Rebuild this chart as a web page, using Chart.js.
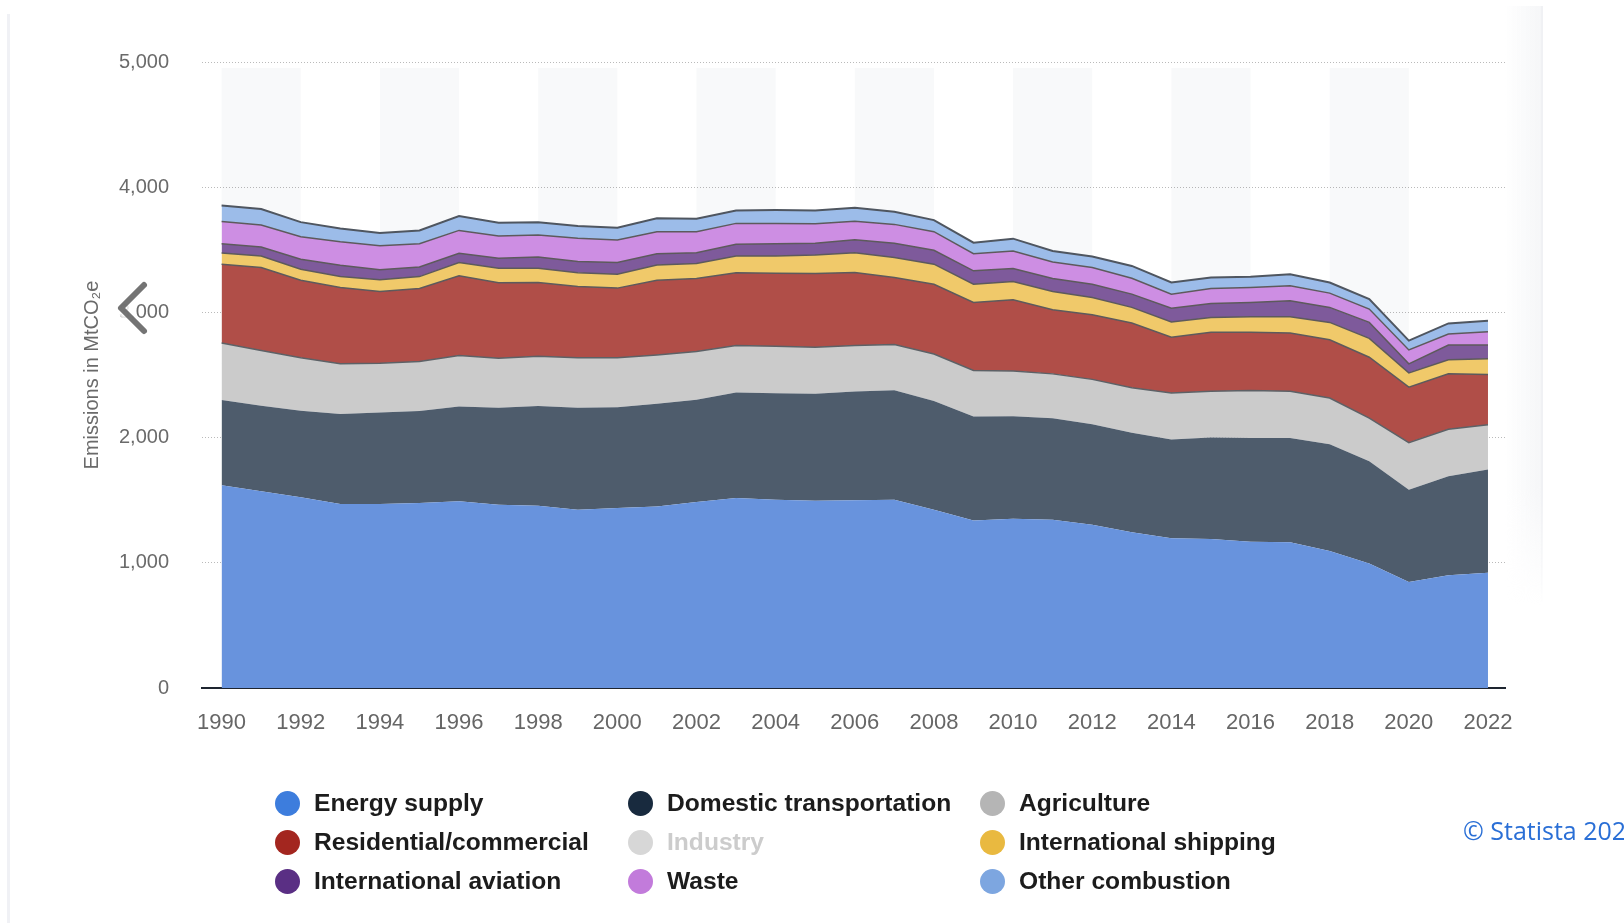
<!DOCTYPE html>
<html>
<head>
<meta charset="utf-8">
<script src="https://cdn.jsdelivr.net/npm/chart.js@4.4.1/dist/chart.umd.min.js"></script>
<style>
html, body { margin: 0; padding: 0; background: #fff; overflow: hidden; }
#wrap { position: relative; width: 1624px; height: 923px; overflow: hidden; }
#chart { position: absolute; left: 0; top: 0; }
.edge-left { position: absolute; left: 7px; top: 14px; width: 3px; height: 920px; background: #f0f1f5; }
.edge-right { position: absolute; left: 1505px; top: 6px; width: 37px; height: 600px;
  background: linear-gradient(to right, rgba(248,249,250,0), rgba(244,245,247,0.9));
  -webkit-mask-image: linear-gradient(to bottom, #000 80%, transparent); }
.edge-right-line { position: absolute; left: 1541px; top: 6px; width: 2px; height: 600px; background: #f0f1f4;
  -webkit-mask-image: linear-gradient(to bottom, #000 80%, transparent); }
.legend-item { position: absolute; height: 26px; display: flex; align-items: center; white-space: nowrap;
  font-family: "Liberation Sans", Arial, sans-serif; font-weight: bold; font-size: 24.6px; color: #1c1c1c; }
.legend-item .dot { width: 25px; height: 25px; border-radius: 50%; margin-right: 14px; flex: none; }
.credit { position: absolute; left: 1463px; top: 813px; font-family: "Open Sans", sans-serif; font-size: 25px;
  color: #2a6fd6; white-space: nowrap; }
svg.overlay { position: absolute; left: 0; top: 0; pointer-events: none; }
</style>
</head>
<body>
<div id="wrap">
  <div class="edge-left"></div>
  <div class="edge-right"></div>
  <div class="edge-right-line"></div>
  <canvas id="chart" width="1624" height="923"></canvas>
  <div id="legend"></div>
  <div class="credit">© Statista 2024</div>
  <svg class="overlay" width="1624" height="923">
    <polyline points="144,285 121,308 144,331" fill="none" stroke="#ffffff" stroke-opacity="0.85" stroke-width="12" stroke-linecap="round" stroke-linejoin="round"/>
    <polyline points="144,285 121,308 144,331" fill="none" stroke="#5c5c5c" stroke-opacity="0.85" stroke-width="6" stroke-linecap="round" stroke-linejoin="round"/>
  </svg>
</div>
<script>
const years = [1990, 1991, 1992, 1993, 1994, 1995, 1996, 1997, 1998, 1999, 2000, 2001, 2002, 2003, 2004, 2005,
  2006, 2007, 2008, 2009, 2010, 2011, 2012, 2013, 2014, 2015, 2016, 2017, 2018, 2019, 2020, 2021, 2022];

// values in MtCO2e (stack order bottom to top)
const energySupply = [1619, 1571, 1523, 1469, 1469, 1477, 1491, 1464, 1456, 1424, 1437, 1450, 1485, 1517, 1504, 1496,
  1499, 1504, 1424, 1338, 1351, 1343, 1303, 1244, 1196, 1190, 1169, 1164, 1094, 995, 847, 901, 920];
const domesticTransportation = [681, 684, 691, 719, 731, 735, 758, 774, 796, 814, 805, 820, 818, 843, 851, 854,
  869, 874, 869, 830, 819, 812, 804, 794, 789, 810, 828, 833, 852, 817, 737, 791, 825];
const agriculture = [456, 440, 423, 401, 394, 395, 406, 396, 398, 399, 395, 390, 384, 375, 374, 371,
  367, 365, 375, 368, 361, 354, 358, 360, 371, 370, 379, 373, 370, 343, 376, 374, 358];
const residentialCommercial = [629, 663, 620, 610, 573, 584, 637, 602, 589, 570, 557, 597, 584, 581, 584, 589,
  583, 536, 557, 544, 570, 512, 516, 517, 445, 471, 465, 466, 466, 487, 443, 443, 401];
const internationalShipping = [90, 93, 88, 87, 93, 95, 106, 117, 114, 109, 111, 122, 119, 135, 138, 149,
  159, 159, 160, 145, 146, 146, 138, 125, 122, 119, 125, 130, 138, 151, 114, 112, 125];
const internationalAviation = [74, 72, 79, 91, 80, 77, 74, 79, 90, 90, 93, 90, 87, 93, 98, 93,
  104, 114, 111, 107, 103, 104, 106, 106, 111, 112, 114, 127, 120, 127, 72, 119, 111];
const waste = [178, 175, 181, 188, 193, 186, 183, 178, 175, 186, 180, 176, 168, 167, 162, 156,
  148, 151, 149, 137, 141, 132, 133, 127, 112, 119, 119, 119, 114, 107, 111, 88, 106];
const otherCombustion = [127, 127, 116, 106, 101, 106, 114, 106, 103, 98, 98, 106, 103, 103, 106, 106,
  107, 101, 92, 88, 98, 88, 88, 98, 93, 88, 85, 93, 85, 79, 75, 84, 88];

const xTicks = [1990, 1992, 1994, 1996, 1998, 2000, 2002, 2004, 2006, 2008, 2010, 2012, 2014, 2016, 2018, 2020, 2022];
const yTicks = [0, 1000, 2000, 3000, 4000, 5000];

const font = '"Liberation Sans", Arial, sans-serif';

// stacked layers, bottom first
const layers = [
  { label: 'Energy supply', data: energySupply, fill: '#6893dd', line: '#6893dd', width: 0 },
  { label: 'Domestic transportation', data: domesticTransportation, fill: '#4e5c6c', line: '#4e5c6c', width: 0 },
  { label: 'Agriculture', data: agriculture, fill: '#cbcbcb', line: '#5d6166', width: 1.5 },
  { label: 'Residential/commercial', data: residentialCommercial, fill: '#b04e48', line: '#5d5a5c', width: 1.5 },
  { label: 'International shipping', data: internationalShipping, fill: '#f0c96a', line: '#5d5a5c', width: 1.5 },
  { label: 'International aviation', data: internationalAviation, fill: '#7e5a9b', line: '#5d5a5c', width: 1.5 },
  { label: 'Waste', data: waste, fill: '#cd8ee3', line: '#5d5a5c', width: 1.5 },
  { label: 'Other combustion', data: otherCombustion, fill: '#9cbce9', line: '#4f5660', width: 2 }
];

// legend, row by row as in the original (Industry is switched off)
const legendEntries = [
  { label: 'Energy supply', dot: '#3d7ddd' },
  { label: 'Domestic transportation', dot: '#182a3e' },
  { label: 'Agriculture', dot: '#b5b5b5' },
  { label: 'Residential/commercial', dot: '#a3261f' },
  { label: 'Industry', dot: '#d7d7d7', hidden: true },
  { label: 'International shipping', dot: '#e9b940' },
  { label: 'International aviation', dot: '#5a2f84' },
  { label: 'Waste', dot: '#c27bdb' },
  { label: 'Other combustion', dot: '#7da6e0' }
];

const bandPlugin = {
  id: 'bands',
  beforeDraw(chart) {
    const { ctx, chartArea, scales: { x } } = chart;
    ctx.save();
    ctx.fillStyle = '#f8f9fa';
    xTicks.forEach((t, i) => {
      if (i % 2 !== 0 || i === xTicks.length - 1) return;
      const x0 = x.getPixelForValue(t);
      const x1 = x.getPixelForValue(xTicks[i + 1]);
      ctx.fillRect(x0, chartArea.top + 6, x1 - x0, chartArea.bottom - chartArea.top - 6);
    });
    ctx.restore();
  }
};

const chart = new Chart(document.getElementById('chart'), {
  type: 'line',
  data: {
    labels: years,
    datasets: layers.map((l, i) => ({
      label: l.label,
      data: l.data,
      backgroundColor: l.fill,
      borderColor: l.line,
      borderWidth: l.width,
      fill: i === 0 ? 'origin' : '-1',
      pointRadius: 0,
      pointHoverRadius: 0,
      tension: 0
    }))
  },
  options: {
    responsive: false,
    animation: false,
    layout: { padding: { left: 80, right: 119, top: 62, bottom: 185 } },
    plugins: {
      legend: { display: false },
      tooltip: { enabled: false }
    },
    scales: {
      x: {
        type: 'linear',
        min: 1989.505,
        max: 2022.43,
        afterBuildTicks: s => { s.ticks = xTicks.map(v => ({ value: v })); },
        afterFit: s => { s.height = 50; },
        grid: { display: false, drawTicks: false },
        border: { display: true, color: '#1e2530', width: 2 },
        ticks: {
          autoSkip: false,
          maxRotation: 0,
          padding: 22,
          color: '#666',
          font: { family: font, size: 22 },
          callback: v => String(v)
        },
        z: 1
      },
      y: {
        stacked: true,
        min: 0,
        max: 5000,
        afterBuildTicks: s => { s.ticks = yTicks.map(v => ({ value: v })); },
        afterFit: s => { s.width = 122; },
        grid: { color: 'rgba(0,0,0,0.27)', lineWidth: 1, drawTicks: false },
        border: { display: false, dash: [1, 2] },
        ticks: {
          padding: 33,
          color: '#6a6a6a',
          font: { family: font, size: 20 },
          callback: v => v.toLocaleString('en-US')
        },
        title: {
          display: true,
          text: 'Emissions in MtCO₂e',
          color: '#6a6a6a',
          font: { family: font, size: 20 },
          padding: { top: 0, bottom: 0 }
        },
        z: 1
      }
    }
  },
  plugins: [bandPlugin]
});

// html legend in three columns
const legendBox = document.getElementById('legend');
const colX = [275, 628, 980];
const rowY = [790, 829, 868];
legendEntries.forEach((e, i) => {
  const item = document.createElement('div');
  item.className = 'legend-item';
  item.style.left = colX[i % 3] + 'px';
  item.style.top = rowY[Math.floor(i / 3)] + 'px';
  if (e.hidden) item.style.color = '#cccccc';
  const dot = document.createElement('span');
  dot.className = 'dot';
  dot.style.background = e.dot;
  item.appendChild(dot);
  item.appendChild(document.createTextNode(e.label));
  legendBox.appendChild(item);
});
</script>
</body>
</html>
